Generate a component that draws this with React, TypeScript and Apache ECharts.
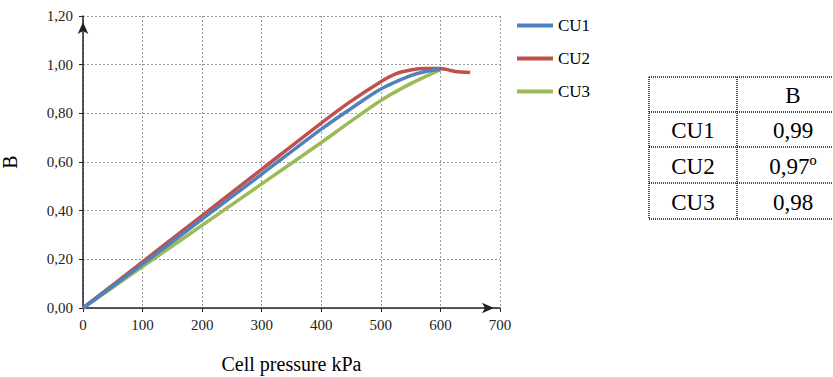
import React, { useEffect, useRef } from "react";
import * as echarts from "echarts";

const xCU1 = [0, 100, 200, 300, 400, 450, 500, 550, 575, 600];
const yCU1 = [0, 0.18, 0.365, 0.55, 0.735, 0.82, 0.9, 0.955, 0.972, 0.98];
const xCU2 = [0, 100, 200, 300, 400, 450, 500, 525, 550, 575, 600, 625, 650];
const yCU2 = [0, 0.19, 0.38, 0.57, 0.76, 0.85, 0.93, 0.962, 0.978, 0.984, 0.984, 0.972, 0.968];
const xCU3 = [0, 100, 200, 300, 400, 450, 500, 550, 600];
const yCU3 = [0, 0.17, 0.34, 0.51, 0.68, 0.768, 0.853, 0.922, 0.98];

const seriesNames = ["CU1", "CU2", "CU3"];
const colors = ["#4F81BD", "#C0504D", "#9BBB59"];

const tableHeader = ["", "B"];
const tableRows = [
  ["CU1", "0,99"],
  ["CU2", "0,97º"],
  ["CU3", "0,98"],
];

const FONT = "Liberation Serif";

export default function App() {
  const ref = useRef<HTMLDivElement>(null);
  useEffect(() => {
    if (!ref.current) return;
    const chart = echarts.init(ref.current, undefined, { renderer: "svg" });
    const pair = (xs: number[], ys: number[]) => xs.map((x, i) => [x, ys[i]]);
    const datasets = [pair(xCU1, yCU1), pair(xCU2, yCU2), pair(xCU3, yCU3)];

    const rowLines = [77, 112, 147, 183, 219];
    const colLines = [649, 737];
    const tl = 649, tr = 860;
    const graphics: any[] = [];
    const dash = { stroke: "#111", lineWidth: 1.5, lineDash: [1, 1] };
    rowLines.forEach((y) =>
      graphics.push({ type: "line", shape: { x1: tl, y1: y, x2: tr, y2: y }, style: dash, silent: true })
    );
    colLines.forEach((x) =>
      graphics.push({
        type: "line",
        shape: { x1: x, y1: rowLines[0], x2: x, y2: rowLines[rowLines.length - 1] },
        style: dash,
        silent: true,
      })
    );
    const colCenters = [693, 793];
    const allRows = [tableHeader, ...tableRows];
    allRows.forEach((row, ri) => {
      const yc = (rowLines[ri] + rowLines[ri + 1]) / 2;
      row.forEach((t, ci) => {
        if (!t) return;
        graphics.push({
          type: "text",
          x: colCenters[ci],
          y: yc + 1,
          style: {
            text: t,
            fontFamily: FONT,
            fontSize: 23,
            fill: "#000",
            align: "center",
            verticalAlign: "middle",
          },
          silent: true,
        });
      });
    });

    const fmt = (v: number) => v.toFixed(2).replace(".", ",");

    chart.setOption({
      animation: false,
      backgroundColor: "#fff",
      textStyle: { fontFamily: FONT },
      grid: { left: 83, top: 16, right: 333, bottom: 69, containLabel: false, outerBoundsMode: "none" },
      legend: {
        orient: "vertical",
        left: 517,
        top: 17,
        padding: 0,
        itemWidth: 36,
        itemHeight: 4,
        itemGap: 16,
        icon: "rect",
        data: seriesNames,
        textStyle: { fontFamily: FONT, fontSize: 17, color: "#000" },
      },
      xAxis: {
        type: "value",
        min: 0,
        max: 700,
        interval: 100,
        name: "Cell pressure kPa",
        nameLocation: "middle",
        nameGap: 46,
        nameTextStyle: { fontFamily: FONT, fontSize: 20, color: "#000" },
        axisLine: {
          show: true,
          lineStyle: { color: "#222", width: 1.5 },
          symbol: ["none", "arrow"],
          symbolSize: [8, 12],
          symbolOffset: [0, -6],
        },
        axisTick: { show: true, length: 4, lineStyle: { color: "#222" } },
        axisLabel: { fontFamily: FONT, fontSize: 15, color: "#222", margin: 9 },
        splitLine: { show: true, lineStyle: { type: [2, 2], color: "#999", width: 1 } },
      },
      yAxis: {
        type: "value",
        min: 0,
        max: 1.2,
        interval: 0.2,
        name: "B",
        nameLocation: "middle",
        nameGap: 63,
        nameTextStyle: { fontFamily: FONT, fontSize: 20, color: "#000" },
        axisLine: {
          show: true,
          lineStyle: { color: "#222", width: 1.5 },
          symbol: ["none", "arrow"],
          symbolSize: [8, 12],
          symbolOffset: [0, -6],
        },
        axisTick: { show: true, length: 4, lineStyle: { color: "#222" } },
        axisLabel: { fontFamily: FONT, fontSize: 15, color: "#222", margin: 10, formatter: fmt },
        splitLine: { show: true, lineStyle: { type: [2, 2], color: "#999", width: 1 } },
      },
      series: seriesNames.map((n, i) => ({
        name: n,
        type: "line",
        data: datasets[i],
        smooth: 0.3,
        showSymbol: false,
        symbol: "none",
        lineStyle: { color: colors[i], width: 3.5 },
        itemStyle: { color: colors[i] },
        z: 3 - i,
      })),
      graphic: graphics,
    });
    return () => chart.dispose();
  }, []);
  return (
    <div
      ref={ref}
      style={{ position: "fixed", left: 0, top: 0, width: 833, height: 377 }}
    />
  );
}
